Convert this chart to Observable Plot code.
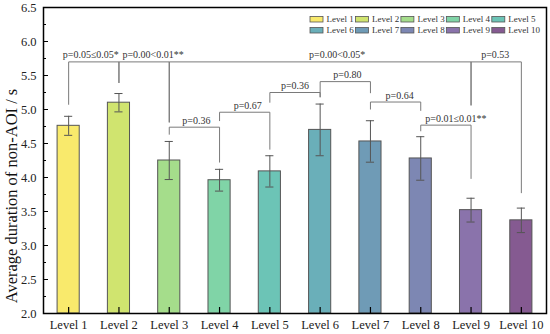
<!DOCTYPE html>
<html><head><meta charset="utf-8">
<script src="https://cdn.jsdelivr.net/npm/d3@7"></script>
<script src="https://cdn.jsdelivr.net/npm/@observablehq/plot@0.6"></script>
<style>body{margin:0;background:#fff} svg{display:block}</style>
</head><body><div id="chart"></div>
<script>
// ---- data ----
const levels = ["Level 1","Level 2","Level 3","Level 4","Level 5","Level 6","Level 7","Level 8","Level 9","Level 10"];
const means  = [4.76, 5.10, 4.25, 3.96, 4.09, 4.70, 4.53, 4.28, 3.52, 3.37];
const errors = [0.14, 0.135, 0.28, 0.16, 0.23, 0.38, 0.305, 0.32, 0.175, 0.18];
const barColors = ["#f9ea6c","#d0e46f","#a5dd8b","#80d4a7","#6cc4b6","#6aafb9","#6f9bb6","#7d87b3","#8a73ab","#855a91"];
const majorTicks = [2.0,2.5,3.0,3.5,4.0,4.5,5.0,5.5,6.0,6.5];
const minorTicks = [2.25,2.75,3.25,3.75,4.25,4.75,5.25,5.75,6.25];
const bracketFrom    = ["Level 1","Level 2","Level 3","Level 9","Level 3","Level 4","Level 5","Level 6","Level 7","Level 8"];
const bracketTo      = ["Level 2","Level 3","Level 9","Level 10","Level 4","Level 5","Level 6","Level 7","Level 8","Level 9"];
const bracketY       = [5.70, 5.70, 5.70, 5.70, 4.74, 4.96, 5.25, 5.41, 5.11, 4.77];
const bracketFromEnd = [5.07, 5.39, 4.81, 5.06, 4.63, 4.83, 5.10, 5.18, 5.00, 4.68];
const bracketToEnd   = [5.39, 4.81, 5.06, 3.77, 4.22, 4.41, 5.18, 5.24, 4.98, 3.98];
const bracketLabels  = ["p=0.05≤0.05*","p=0.00<0.01**","p=0.00<0.05*","p=0.53","p=0.36","p=0.67","p=0.36","p=0.80","p=0.64","p=0.01≤0.01**"];
const yTitle = "Average duration of non-AOI / s";

// ---- layout ----
const W = 550, H = 334, mL = 43, mR = 4, mT = 7, mB = 21;
const frameW = W - mL - mR, frameH = H - mT - mB;
const xOpts = {type: "band", domain: levels, range: [mL, W - mR], paddingInner: 0.56, paddingOuter: 0.28, round: false};
const xs = Plot.scale({x: xOpts});
const labelShift = [-3, 9, 17, -1, 2, 3, 0, 2, 4, 10];
const font = "'Liberation Serif', 'Times New Roman', serif";

const data = levels.map((level, i) => ({level, mean: means[i], err: errors[i]}));
const segments = [];
bracketFrom.forEach((a, i) => {
  const b = bracketTo[i], y = bracketY[i];
  segments.push({x1: a, x2: b, y1: y, y2: y});
  segments.push({x1: a, x2: a, y1: y, y2: bracketFromEnd[i]});
  segments.push({x1: b, x2: b, y1: y, y2: bracketToEnd[i]});
});
const labelMarks = bracketLabels.map((t, i) => {
  const half = (xs.apply(bracketTo[i]) - xs.apply(bracketFrom[i])) / 2;
  return Plot.text([t], {
    x: () => bracketFrom[i], y: () => bracketY[i], text: d => d,
    dx: half + labelShift[i], dy: -3.5, lineAnchor: "bottom", textAnchor: "middle",
    fontSize: 10, fill: "#333"
  });
});

const chart = Plot.plot({
  width: W, height: H,
  marginLeft: mL, marginRight: mR, marginTop: mT, marginBottom: mB,
  style: {fontFamily: font, fontSize: "12.5px", color: "#222", background: "#fff"},
  x: {...xOpts, range: undefined, label: null},
  y: {domain: [2, 6.5], label: null},
  color: {domain: levels, range: barColors},
  marks: [
    Plot.barY(data, {x: "level", y1: () => 2, y2: "mean", fill: "level", stroke: "#555", strokeWidth: 1}),
    Plot.ruleX(data, {x: "level", y1: d => d.mean - d.err, y2: d => d.mean + d.err, stroke: "#555", strokeWidth: 1}),
    Plot.tickY(data, {x: "level", y: d => d.mean + d.err, insetLeft: 7, insetRight: 7, stroke: "#555", strokeWidth: 1}),
    Plot.tickY(data, {x: "level", y: d => d.mean - d.err, insetLeft: 7, insetRight: 7, stroke: "#555", strokeWidth: 1}),
    Plot.link(segments, {x1: "x1", x2: "x2", y1: "y1", y2: "y2", stroke: "#7a7a7a", strokeWidth: 1}),
    ...labelMarks,
    Plot.axisY({ticks: majorTicks, tickSize: 0, tickPadding: 7, tickFormat: d3.format(".1f"), label: null}),
    Plot.axisX({tickSize: 0, tickPadding: 7, label: null}),
    Plot.ruleY(majorTicks, {stroke: "#000", strokeWidth: 1, insetRight: frameW - 5}),
    Plot.ruleY(minorTicks, {stroke: "#000", strokeWidth: 1, insetRight: frameW - 3}),
    Plot.ruleX(levels, {x: d => d, stroke: "#000", strokeWidth: 1.2, insetTop: frameH - 6}),
    Plot.frame({stroke: "#000", strokeWidth: 1.5})
  ]
});

// y-axis title and in-plot legend
const svg = d3.select(chart);
svg.append("text")
  .attr("transform", "translate(17,196) rotate(-90)")
  .attr("text-anchor", "middle")
  .attr("font-family", font).attr("font-size", 16.5).attr("fill", "#111")
  .text(yTitle);
const lg = svg.append("g").attr("font-family", font).attr("font-size", 9).attr("fill", "#333")
  .attr("text-anchor", "start");
levels.forEach((lv, i) => {
  const col = i % 5, row = Math.floor(i / 5);
  const x0 = 310 + col * 45.45, y0 = 16.5 + row * 11;
  lg.append("rect").attr("x", x0).attr("y", y0).attr("width", 13).attr("height", 5.5)
    .attr("fill", barColors[i]).attr("stroke", "#555").attr("stroke-width", 0.8);
  lg.append("text").attr("x", x0 + 16.5).attr("y", y0 + 5.5).attr("text-anchor", "start").text(lv);
});
document.getElementById("chart").append(chart);
</script>
</body></html>
